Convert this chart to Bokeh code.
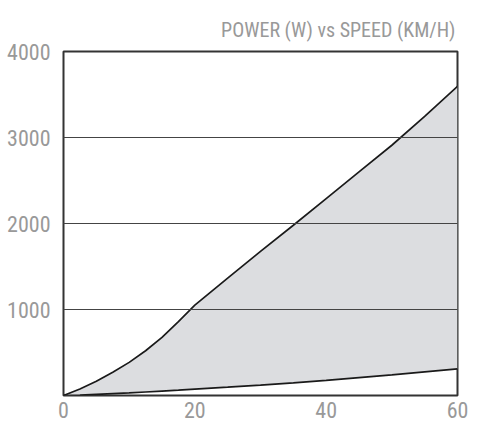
from bokeh.plotting import figure
from bokeh.models import Range1d, FixedTicker, ColumnDataSource, Title
from bokeh.embed import file_html
from bokeh.resources import INLINE

speed = [0, 2.5, 5, 7.5, 10, 12.5, 15, 17.5, 20, 25, 30, 35, 40, 45, 50, 55, 60]
power_high = [0, 75, 165, 270, 385, 520, 675, 860, 1050, 1365, 1675, 1980, 2290, 2600, 2910, 3245, 3595]
power_low = [0, 6, 14, 22, 30, 41, 52, 63, 75, 97, 120, 146, 175, 207, 240, 275, 310]
x_ticks = [0, 20, 40, 60]
y_ticks = [1000, 2000, 3000, 4000]
title_text = "POWER (W) vs SPEED (KM/H)"

FONT = "Roboto Condensed"
LABEL = "#999999"

src = ColumnDataSource(dict(x=speed, hi=power_high, lo=power_low))

p = figure(width=478, height=421, output_backend="svg", toolbar_location=None,
           x_range=Range1d(0, 60), y_range=Range1d(0, 4000),
           min_border_left=63, min_border_right=21, min_border_top=51, min_border_bottom=26)

p.varea(x="x", y1="lo", y2="hi", source=src, fill_color="#dcdde0")
p.line(x="x", y="hi", source=src, line_color="#1a1a1a", line_width=1.7)
p.line(x="x", y="lo", source=src, line_color="#1a1a1a", line_width=1.7)

p.outline_line_color = "#333333"
p.outline_line_width = 2

p.xgrid.visible = False
p.ygrid.ticker = FixedTicker(ticks=[1000, 2000, 3000])
p.ygrid.grid_line_color = "#444444"
p.ygrid.grid_line_width = 1
p.ygrid.level = "overlay"

p.xaxis.ticker = FixedTicker(ticks=x_ticks)
p.yaxis.ticker = FixedTicker(ticks=y_ticks)
for ax in (p.xaxis, p.yaxis):
    ax.axis_line_color = None
    ax.major_tick_line_color = None
    ax.minor_tick_line_color = None
    ax.major_label_text_font = FONT
    ax.major_label_text_font_size = "22px"
    ax.major_label_text_color = LABEL
p.xaxis.major_label_standoff = 0
p.yaxis.major_label_standoff = 7

t = Title(text=title_text, align="right", text_font=FONT, text_font_size="20px",
          text_color=LABEL, text_font_style="normal", offset=2, standoff=20)
p.add_layout(t, "above")

open("out.html", "w").write(file_html(p, INLINE))
